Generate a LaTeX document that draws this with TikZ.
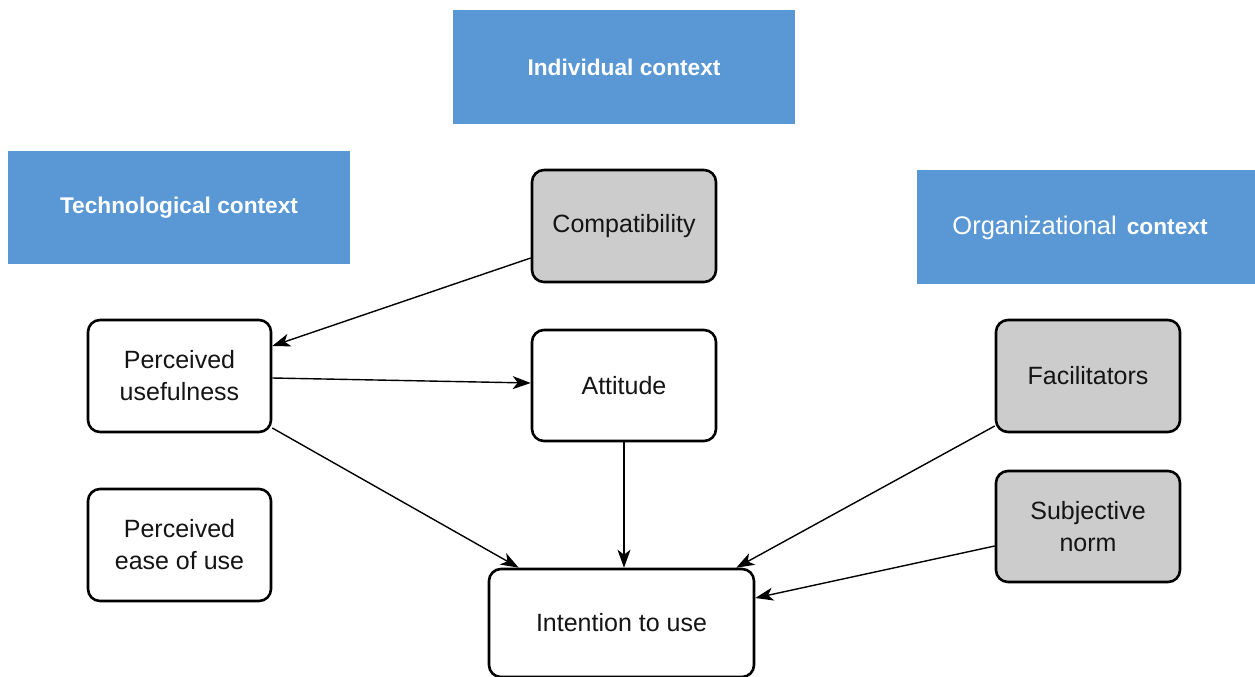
\documentclass[tikz,border=0pt]{standalone}
\usepackage{fontspec}
\setmainfont{Liberation Sans}
\usetikzlibrary{arrows.meta,calc}
\definecolor{hdrblue}{RGB}{89,152,212}
\definecolor{boxgray}{RGB}{204,204,204}
\definecolor{txt}{RGB}{20,20,20}
\tikzset{
  header/.style={fill=hdrblue, draw=none, text=white, font=\fontsize{22.7}{28}\selectfont\bfseries, inner sep=0pt},
  plainbox/.style={draw=black, line width=2.6pt, rounded corners=12pt, fill=white, text=txt, align=center, inner sep=0pt, font=\fontsize{25}{32}\selectfont},
  graybox/.style={plainbox, fill=boxgray},
  conn/.style={line width=1.4pt, -{Stealth[length=18pt,width=13pt,inset=5pt]}}
}
\begin{document}
\begin{tikzpicture}[x=1pt,y=-1pt]
\useasboundingbox (0,0) rectangle (1255,677);
% headers
\node[header, minimum width=342pt, minimum height=114pt] (ind) at (624,67) {Individual context};
\node[header, minimum width=342pt, minimum height=113pt] (tech) at (179,207.5) {Technological context};
\fill[hdrblue] (917,170) rectangle (1255,284);
\node[text=white, inner sep=0pt] (org) at (1080,228) {{\fontsize{25.5}{30}\selectfont Organizational}\hspace{10pt}{\fontsize{22.7}{30}\selectfont\bfseries context}};
% boxes
\node[graybox, minimum width=184pt, minimum height=112pt] (comp) at (624,226) {\raisebox{-2pt}{Compatibility}};
\node[plainbox, minimum width=183pt, minimum height=112pt] (pu) at (179.5,376) {Perceived\\usefulness};
\node[plainbox, minimum width=184pt, minimum height=111pt] (att) at (624,385.5) {Attitude};
\node[graybox, minimum width=184pt, minimum height=112pt] (fac) at (1088,376) {Facilitators};
\node[graybox, minimum width=184pt, minimum height=111pt] (sn) at (1088,526.5) {Subjective\\norm};
\node[plainbox, minimum width=183pt, minimum height=112pt] (peou) at (179.5,545) {Perceived\\ease of use};
\node[plainbox, minimum width=265pt, minimum height=108pt] (int) at (621.5,623) {Intention to use};
% connectors
\draw[conn] ($(comp.west)+(0,32)$) -- ($(pu.east)+(0,-30)$);
\draw[conn] ($(pu.east)+(0,2)$) -- ($(att.west)+(0,-2.5)$);
\draw[conn] ($(pu.east)+(0,52)$) -- ($(int.north west)+(31,0)$);
\draw[conn] (att.south) -- (int.north -| att.south);
\draw[conn] ($(fac.west)+(0,50)$) -- ($(int.north east)+(-19,0)$);
\draw[conn] ($(sn.west)+(0,19.5)$) -- ($(int.east)+(0,-25)$);
\end{tikzpicture}
\end{document}
